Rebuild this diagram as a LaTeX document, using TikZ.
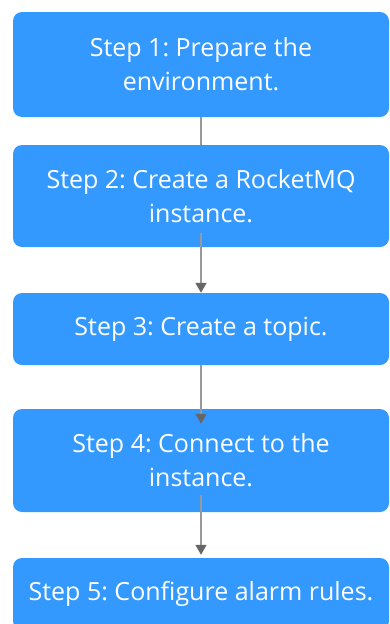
\documentclass[tikz,border=0pt]{standalone}
\usepackage{fontspec}
\setmainfont{Open Sans}
\usepackage{tikz}
\usetikzlibrary{positioning, arrows.meta}

\definecolor{stepblue}{HTML}{3399FF}
\definecolor{linegray}{HTML}{999999}
\definecolor{tipgray}{HTML}{666666}

\frenchspacing

\begin{document}
\begin{tikzpicture}[x=1pt, y=-1pt,
  stepbox/.style={rectangle, rounded corners=9pt, fill=stepblue, text=white,
    minimum width=376pt, font=\fontsize{25}{34}\selectfont, align=center, inner sep=0pt},
  link/.style={draw=linegray, line width=1.6pt},
  arr/.style={link, -{Triangle[length=10pt, width=11pt, color=tipgray]}}
]
  \useasboundingbox (0,0) rectangle (389,624);

  % Steps
  \node[stepbox, minimum height=105pt] (step1) at (201,64.5) {Step 1: Prepare the\\environment.};
  \node[stepbox, minimum height=102pt] (step2) at (201,196) {Step 2: Create a RocketMQ\\instance.};
  \node[stepbox, minimum height=72pt] (step3) at (201,329) {Step 3: Create a topic.};
  \node[stepbox, minimum height=103pt] (step4) at (201,460.5) {Step 4: Connect to the\\instance.};
  \node[stepbox, minimum height=72pt] (step5) at (201,594) {Step 5: Configure alarm rules.};

  % Links
  \draw[link] (step1.south) -- (step2.north);
  \draw[arr] ([yshift=14pt]step2.south) -- (step3.north);
  \draw[arr] (step3.south) -- ([yshift=-15pt]step4.north);
  \draw[arr] ([yshift=17pt]step4.south) -- ([yshift=3pt]step5.north);

\end{tikzpicture}
\end{document}
